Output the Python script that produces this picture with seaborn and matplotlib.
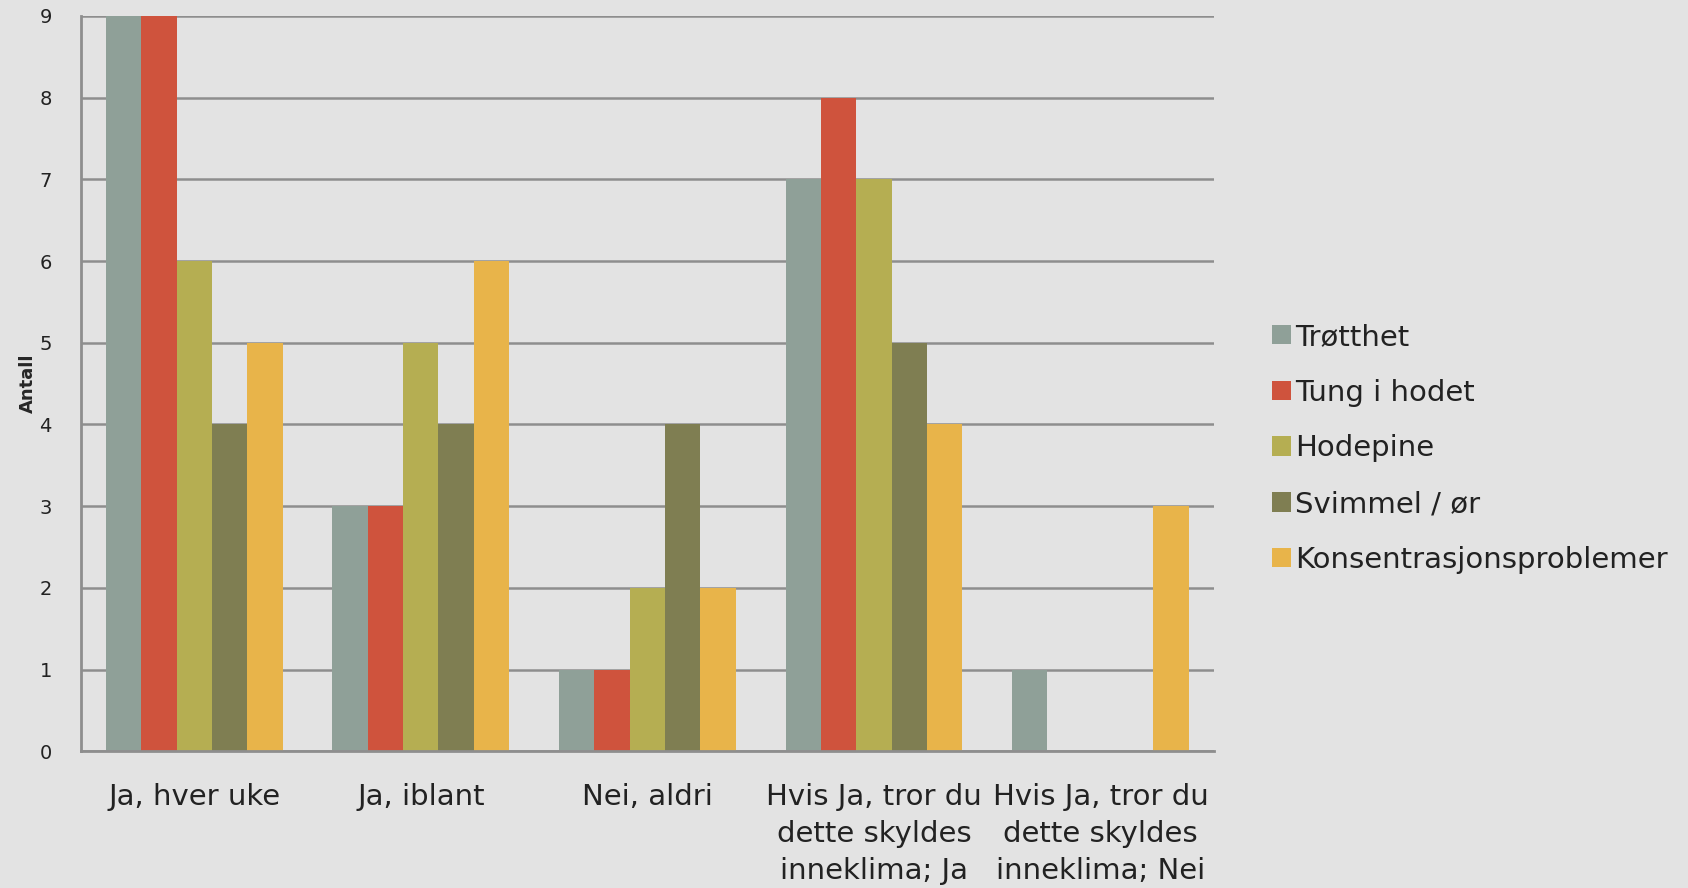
import numpy as np
import pandas as pd
import matplotlib.pyplot as plt
import seaborn as sns

# Kategorier og verdier lest av figuren
kategorier = ['Ja, hver uke', 'Ja, iblant', 'Nei, aldri',
              'Hvis Ja, tror du\ndette skyldes\ninneklima; Ja',
              'Hvis Ja, tror du\ndette skyldes\ninneklima; Nei']
serier = ['Trøtthet', 'Tung i hodet', 'Hodepine', 'Svimmel / ør', 'Konsentrasjonsproblemer']
trotthet = [9, 3, 1, 7, 1]
tung_i_hodet = [9, 3, 1, 8, 0]
hodepine = [6, 5, 2, 7, 0]
svimmel = [4, 4, 4, 5, 0]
konsentrasjon = [5, 6, 2, 4, 3]
farger = ['#8FA098', '#CF533D', '#B5AE52', '#7F7E52', '#E8B44A']

verdier = [trotthet, tung_i_hodet, hodepine, svimmel, konsentrasjon]
rader = []
for navn, vals in zip(serier, verdier):
    for kat, v in zip(kategorier, vals):
        rader.append({'Kategori': kat, 'Symptom': navn, 'Antall': v})
df = pd.DataFrame(rader)

sns.set_style('white')
plt.rcParams['font.family'] = ['DejaVu Sans']
bg = '#E3E3E3'
grid_c = '#8E8E8E'

fig = plt.figure(figsize=(16.88, 8.88), dpi=100, facecolor=bg)
ax = fig.add_axes([0.048, 0.154, 0.671, 0.828])
ax.set_facecolor(bg)

sns.barplot(data=df, x='Kategori', y='Antall', hue='Symptom', order=kategorier,
            hue_order=serier, palette=farger, width=0.78, gap=0, saturation=1,
            linewidth=0, ax=ax, legend=True)

ax.set_ylim(0, 9)
ax.set_xlim(-0.5, 4.5)
ax.set_yticks(range(0, 10))
ax.yaxis.grid(True, color=grid_c, linewidth=1.8)
ax.set_axisbelow(True)

# x-akse: tikk ved grensene, etiketter i midten
ax.set_xticks(np.arange(-0.5, 5, 1))
ax.set_xticklabels([])
ax.set_xticks(range(5), minor=True)
ax.set_xticklabels(kategorier, minor=True, fontsize=21, color='#222222',
                   linespacing=1.4)
ax.tick_params(axis='x', which='major', length=9, width=2, color=grid_c, direction='out')
ax.tick_params(axis='x', which='minor', length=0, pad=23)
ax.tick_params(axis='y', length=9, width=1.8, color=grid_c, labelsize=14,
               labelcolor='#222222', pad=12)

for s in ['top', 'right']:
    ax.spines[s].set_visible(False)
for s in ['left', 'bottom']:
    ax.spines[s].set_color(grid_c)
    ax.spines[s].set_linewidth(2)

ax.set_xlabel('')
ax.set_ylabel('Antall', fontsize=13, fontweight='bold', labelpad=2)

leg = ax.legend(loc='center left', bbox_to_anchor=(1.028, 0.412), frameon=False,
                fontsize=21, handlelength=0.65, handleheight=0.65,
                handletextpad=0.15, labelspacing=0.95)
for t in leg.get_texts():
    t.set_color('#222222')

fig.savefig('out.png', dpi=100, facecolor=bg)
